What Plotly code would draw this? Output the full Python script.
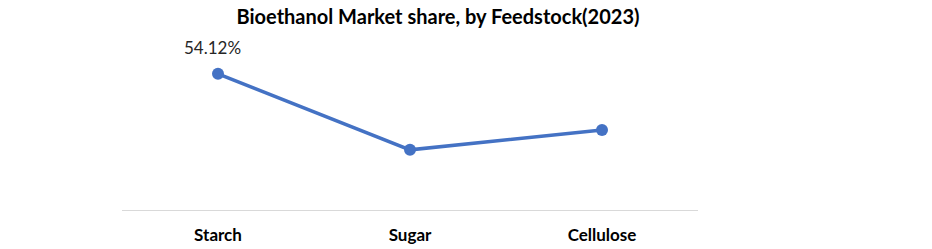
import plotly.graph_objects as go

categories = ["Starch", "Sugar", "Cellulose"]
shares = [54.12, 23.9, 31.8]
labels = ["54.12%", "", ""]

fig = go.Figure()
fig.add_trace(go.Scatter(
    x=categories, y=shares, mode="lines+markers",
    line=dict(color="#4472C4", width=3.5),
    marker=dict(color="#4472C4", size=12),
    hoverinfo="skip", showlegend=False,
))
for c, v, t in zip(categories, shares, labels):
    if t:
        fig.add_annotation(x=c, y=v, text=t, showarrow=False, yshift=26, xshift=-6,
                           font=dict(family="Lato", size=17, color="#262626"))

fig.update_layout(
    width=932, height=249,
    margin=dict(l=122, r=234, t=59, b=39),
    paper_bgcolor="white", plot_bgcolor="white",
    title=dict(text="<b>Bioethanol Market share, by Feedstock(2023)</b>",
               x=438 / 932, xanchor="center", y=1 - 17 / 249, yanchor="middle",
               font=dict(family="Lato", size=20, color="#000000")),
    font=dict(family="Lato"),
)
fig.update_xaxes(type="category", range=[-0.5, 2.5], showline=True, linecolor="#d9d9d9",
                 linewidth=1, showgrid=False, ticks="", zeroline=False, ticklabelstandoff=10,
                 automargin=False,
                 tickfont=dict(family="Lato", size=17, color="#000000", weight="bold"))
fig.update_yaxes(range=[0, 60], visible=False, showgrid=False, zeroline=False, automargin=False)

fig.write_html("out.html")
